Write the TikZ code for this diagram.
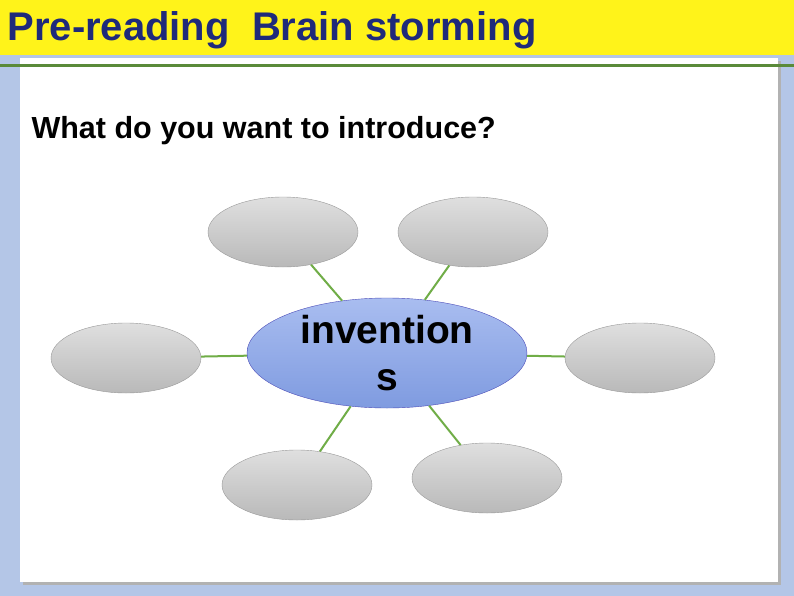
\documentclass[tikz,border=0pt]{standalone}
\usepackage{fontspec}
\setmainfont{Liberation Sans}
\usetikzlibrary{shapes.geometric,shadows}
\definecolor{bgblue}{HTML}{B4C6E7}
\definecolor{ttl}{HTML}{1F2A7A}
\definecolor{grn}{HTML}{70AD47}
\definecolor{ctop}{HTML}{A9BDF0}
\definecolor{cbot}{HTML}{7F9BE0}
\begin{document}
\begin{tikzpicture}[x=1pt,y=-1pt,
  sat/.style={ellipse,draw=gray!80,top color=gray!25,bottom color=gray!55,minimum width=150pt,minimum height=70pt,inner sep=0pt},
  conn/.style={grn,line width=2pt}]
\useasboundingbox (0,0) rectangle (794,596);
\fill[bgblue] (0,0) rectangle (794,596);
\fill[gray!60] (23,61) rectangle (781,585);
\fill[white] (20,58) rectangle (778,582);
\fill[yellow!90!white] (0,0) rectangle (794,55);
\draw[grn!80!black,line width=3pt] (0,66) -- (794,66);
\node[anchor=west,text=ttl,font=\bfseries\fontsize{40}{40}\selectfont] (t) at (4,30) {Pre-reading\ \ Brain storming};
\node[anchor=west,font=\bfseries\fontsize{30.5}{30.5}\selectfont] (q) at (28,131) {What do you want to introduce?};
\node[ellipse,draw=blue!60!black!70,top color=ctop,bottom color=cbot,minimum width=280pt,minimum height=110pt,inner sep=0pt,align=center,font=\bfseries\fontsize{39}{47}\selectfont] (c) at (387,353) {invention\\s};
\node[sat] (e1) at (283,232) {};
\node[sat] (e2) at (473,232) {};
\node[sat] (e3) at (126,358) {};
\node[sat] (e4) at (640,358) {};
\node[sat] (e5) at (297,485) {};
\node[sat] (e6) at (487,478) {};
\draw[conn] (c) -- (e1);
\draw[conn] (c) -- (e2);
\draw[conn] (c) -- (e3);
\draw[conn] (c) -- (e4);
\draw[conn] (c) -- (e5);
\draw[conn] (c) -- (e6);
\end{tikzpicture}
\end{document}
